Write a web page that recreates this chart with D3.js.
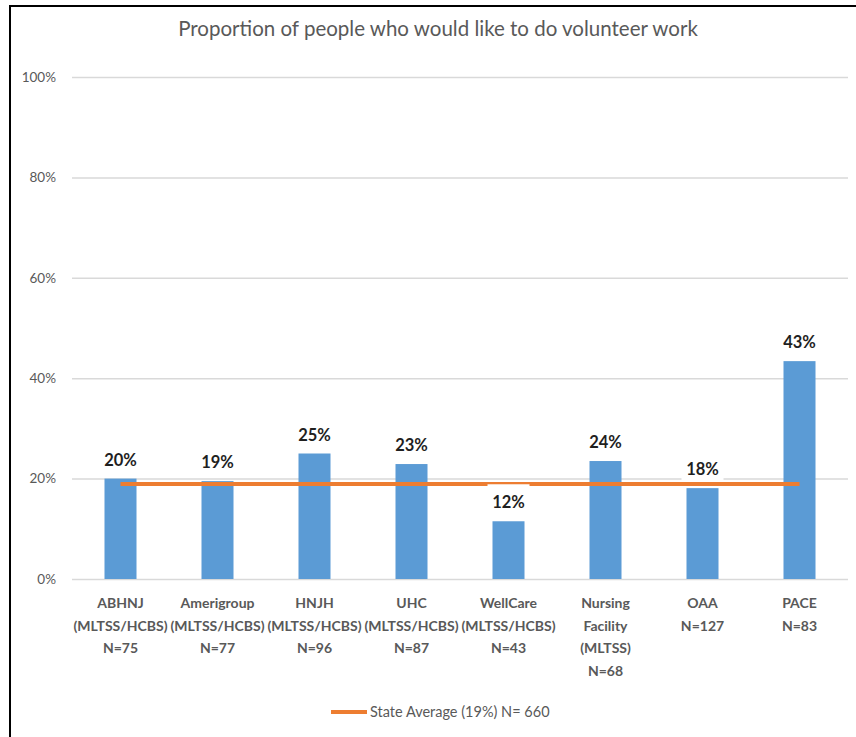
<!DOCTYPE html>
<html>
<head>
<meta charset="utf-8">
<script src="https://cdn.jsdelivr.net/npm/d3@7/dist/d3.min.js"></script>
<style>
  html, body { margin: 0; padding: 0; background: #fff; }
  svg { display: block; }
</style>
</head>
<body>
<svg id="chart" width="856" height="737"></svg>
<script>
const titleText = "Proportion of people who would like to do volunteer work";
const categories = [
  ["ABHNJ", "(MLTSS/HCBS)", "N=75"],
  ["Amerigroup", "(MLTSS/HCBS)", "N=77"],
  ["HNJH", "(MLTSS/HCBS)", "N=96"],
  ["UHC", "(MLTSS/HCBS)", "N=87"],
  ["WellCare", "(MLTSS/HCBS)", "N=43"],
  ["Nursing", "Facility", "(MLTSS)", "N=68"],
  ["OAA", "N=127"],
  ["PACE", "N=83"]
];
const values = [20, 19.5, 25, 22.9, 11.5, 23.5, 18.1, 43.4];
const valueLabels = ["20%", "19%", "25%", "23%", "12%", "24%", "18%", "43%"];
const stateAverage = 18.9;
const legendLabel = "State Average (19%) N= 660";
const yTicks = [0, 20, 40, 60, 80, 100];

const svg = d3.select("#chart");
const font = "Lato, 'Open Sans', sans-serif";
const gray = "#595959";

// frame
svg.append("line").attr("x1", 9).attr("x2", 856).attr("y1", 6).attr("y2", 6)
  .attr("stroke", "#000").attr("stroke-width", 2);
svg.append("line").attr("x1", 10).attr("x2", 10).attr("y1", 5).attr("y2", 737)
  .attr("stroke", "#000").attr("stroke-width", 2);

const keys = categories.map((c, i) => i);
const x = d3.scaleBand().domain(keys).range([72, 848]).paddingInner(0.67).paddingOuter(0.335);
const y = d3.scaleLinear().domain([0, 100]).range([579, 77]);

// title
svg.append("text").attr("x", 438).attr("y", 36).attr("text-anchor", "middle")
  .attr("font-family", font).attr("font-size", 20.5).attr("fill", gray)
  .text(titleText);

// gridlines
const yAxis = d3.axisLeft(y).tickValues(yTicks).tickFormat(d => d + "%")
  .tickSize(-(848 - 72)).tickPadding(16);
const gy = svg.append("g").attr("transform", "translate(72,0)").call(yAxis);
gy.select(".domain").remove();
gy.selectAll(".tick line").attr("stroke", "#d9d9d9").attr("stroke-width", 1.5);
gy.selectAll(".tick text").attr("font-family", font).attr("font-size", 13.5)
  .attr("fill", gray);

// bars
svg.append("g").selectAll("rect").data(values).join("rect")
  .attr("x", (d, i) => x(i))
  .attr("width", x.bandwidth())
  .attr("y", d => y(d))
  .attr("height", d => y(0) - y(d))
  .attr("fill", "#5B9BD5");

// state average line
const avgLine = d3.line().x(d => x(d) + x.bandwidth() / 2).y(() => y(stateAverage));
svg.append("path").datum([keys[0], keys[keys.length - 1]])
  .attr("d", avgLine).attr("stroke", "#ED7D31").attr("stroke-width", 4).attr("fill", "none");

// value labels
const lg = svg.append("g").selectAll("g").data(values).join("g")
  .attr("transform", (d, i) => `translate(${x(i) + x.bandwidth() / 2},${y(d) - 19})`);
lg.append("rect").attr("x", -21).attr("y", -18).attr("width", 42).attr("height", 30)
  .attr("fill", "#fff");
lg.append("text").attr("text-anchor", "middle").attr("y", 6)
  .attr("font-family", font).attr("font-weight", "bold").attr("font-size", 16.5)
  .attr("fill", "#1f1f1f").text((d, i) => valueLabels[i]);

// category labels
const cg = svg.append("g").selectAll("text").data(categories).join("text")
  .attr("text-anchor", "middle")
  .attr("font-family", font).attr("font-weight", "bold").attr("font-size", 14)
  .attr("fill", gray)
  .attr("transform", (d, i) => `translate(${x(i) + x.bandwidth() / 2},608)`);
cg.selectAll("tspan").data(d => d).join("tspan")
  .attr("x", 0).attr("y", (d, j) => j * 22.7).text(d => d);

// legend
svg.append("line").attr("x1", 331).attr("x2", 367).attr("y1", 712).attr("y2", 712)
  .attr("stroke", "#ED7D31").attr("stroke-width", 4);
svg.append("text").attr("x", 370).attr("y", 717)
  .attr("font-family", font).attr("font-size", 14.5).attr("fill", gray)
  .text(legendLabel);
</script>
</body>
</html>
